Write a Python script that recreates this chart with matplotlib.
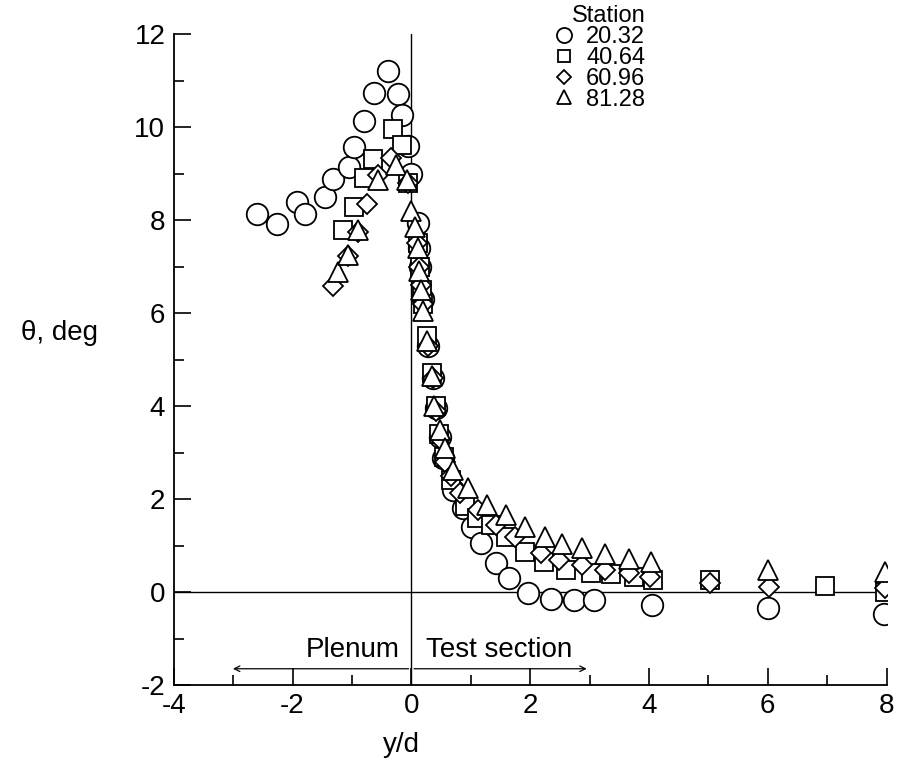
import matplotlib.pyplot as plt
from matplotlib.ticker import MultipleLocator

plt.rcParams['font.family'] = ['Liberation Sans', 'DejaVu Sans']
plt.rcParams['axes.unicode_minus'] = False

# Station 20.32 (circles)
x_2032 = [-2.59, -2.26, -1.93, -1.79, -1.46, -1.31, -1.05, -0.97, -0.79, -0.62, -0.39,
          -0.23, -0.16, -0.05, 0.0, 0.11, 0.13, 0.15, 0.2, 0.28, 0.36, 0.41, 0.49, 0.54,
          0.71, 0.87, 1.03, 1.18, 1.43, 1.64, 1.97, 2.35, 2.74, 3.07, 4.06, 6.0, 7.95]
y_2032 = [8.13, 7.91, 8.39, 8.13, 8.49, 8.88, 9.14, 9.57, 10.13, 10.73, 11.2,
          10.71, 10.26, 9.59, 9.0, 7.94, 7.4, 7.0, 6.3, 5.3, 4.6, 3.96, 3.33, 2.88,
          2.19, 1.81, 1.40, 1.05, 0.62, 0.30, -0.02, -0.15, -0.17, -0.17, -0.28, -0.34, -0.47]

# Station 40.64 (squares)
x_4064 = [-1.15, -0.97, -0.80, -0.64, -0.31, -0.16, -0.05, 0.12, 0.15, 0.18, 0.2, 0.27,
          0.35, 0.41, 0.47, 0.55, 0.67, 0.9, 1.1, 1.34, 1.59, 1.92, 2.23, 2.61, 3.02,
          3.36, 3.75, 4.07, 5.03, 6.97, 7.98]
y_4064 = [7.78, 8.28, 8.90, 9.31, 9.96, 9.61, 8.8, 7.5, 7.0, 6.5, 6.2, 5.5,
          4.7, 4.0, 3.4, 2.9, 2.4, 1.85, 1.6, 1.44, 1.18, 0.86, 0.65, 0.47, 0.41,
          0.39, 0.32, 0.26, 0.26, 0.13, 0.0]

# Station 60.96 (diamonds)
x_6096 = [-1.31, -1.07, -0.90, -0.74, -0.56, -0.34, -0.05, 0.1, 0.13, 0.16, 0.19, 0.28,
          0.36, 0.42, 0.48, 0.56, 0.66, 0.82, 1.12, 1.43, 1.75, 2.18, 2.49, 2.87,
          3.26, 3.66, 4.02, 5.03, 6.02, 7.98]
y_6096 = [6.58, 7.23, 7.74, 8.34, 8.97, 9.33, 8.8, 7.5, 7.0, 6.6, 6.2, 5.3,
          4.6, 3.9, 3.3, 2.8, 2.5, 2.13, 1.76, 1.44, 1.18, 0.84, 0.69, 0.58,
          0.47, 0.41, 0.32, 0.19, 0.11, 0.09]

# Station 81.28 (triangles)
x_8128 = [-1.23, -1.07, -0.90, -0.56, -0.25, -0.08, 0.0, 0.07, 0.11, 0.13, 0.17, 0.2,
          0.27, 0.35, 0.38, 0.49, 0.57, 0.7, 0.95, 1.28, 1.59, 1.92, 2.25, 2.54,
          2.87, 3.26, 3.66, 4.03, 6.0, 7.98]
y_8128 = [6.88, 7.25, 7.78, 8.86, 9.18, 8.86, 8.2, 7.85, 7.4, 6.9, 6.5, 6.05,
          5.4, 4.65, 4.0, 3.48, 3.1, 2.62, 2.24, 1.87, 1.66, 1.4, 1.18, 1.03,
          0.95, 0.82, 0.71, 0.65, 0.47, 0.43]

stations = ["20.32", "40.64", "60.96", "81.28"]

fig = plt.figure(figsize=(9, 7.71), dpi=100)
ax = fig.add_axes([0.193, 0.1115, 0.792, 0.8444])

ax.axhline(0, color="black", lw=1.0, zorder=1)
ax.axvline(0, color="black", lw=1.0, zorder=1)

style = dict(ls="none", mfc="white", mec="black", mew=1.3, zorder=3)
ax.plot(x_2032, y_2032, marker="o", ms=15.5, label=stations[0], **style)
ax.plot(x_4064, y_4064, marker="s", ms=12.5, label=stations[1], **style)
ax.plot(x_6096, y_6096, marker="D", ms=10.5, label=stations[2], **style)
ax.plot(x_8128, y_8128, marker="^", ms=14, label=stations[3], **style)

ax.set_xlim(-4, 8)
ax.set_ylim(-2, 12)
ax.xaxis.set_major_locator(MultipleLocator(2))
ax.xaxis.set_minor_locator(MultipleLocator(1))
ax.yaxis.set_major_locator(MultipleLocator(2))
ax.yaxis.set_minor_locator(MultipleLocator(1))
ax.tick_params(which="both", direction="in", labelsize=20, top=False, right=False)
ax.tick_params(which="major", length=12, width=1.2, pad=6)
ax.tick_params(which="minor", length=7, width=1.2)
ax.spines["top"].set_visible(False)
ax.spines["right"].set_visible(False)
ax.spines["left"].set_linewidth(1.3)
ax.spines["bottom"].set_linewidth(1.3)

ax.set_xlabel("y/d", fontsize=20, labelpad=0)
ax.xaxis.set_label_coords(0.32, -0.072)
ax.set_ylabel("θ, deg", fontsize=20, rotation=0, labelpad=0)
ax.yaxis.set_label_coords(-0.16, 0.52)

# Plenum / Test section annotation
ax.text(-0.2, -1.25, "Plenum", ha="right", va="center", fontsize=20)
ax.text(0.25, -1.25, "Test section", ha="left", va="center", fontsize=20)
ax.annotate("", xy=(-3.05, -1.65), xytext=(0, -1.65),
            arrowprops=dict(arrowstyle="->", color="black", lw=0.9))
ax.annotate("", xy=(3.0, -1.65), xytext=(0, -1.65),
            arrowprops=dict(arrowstyle="->", color="black", lw=0.9))

leg = ax.legend(title="Station", loc="upper left", bbox_to_anchor=(0.514, 1.062),
                frameon=False, fontsize=17, title_fontsize=17, markerscale=0.7,
                handlelength=1.0, handletextpad=0.45, labelspacing=-0.05,
                borderpad=0.0)
leg._legend_box.align = "right"

fig.savefig("out.png", dpi=100)
